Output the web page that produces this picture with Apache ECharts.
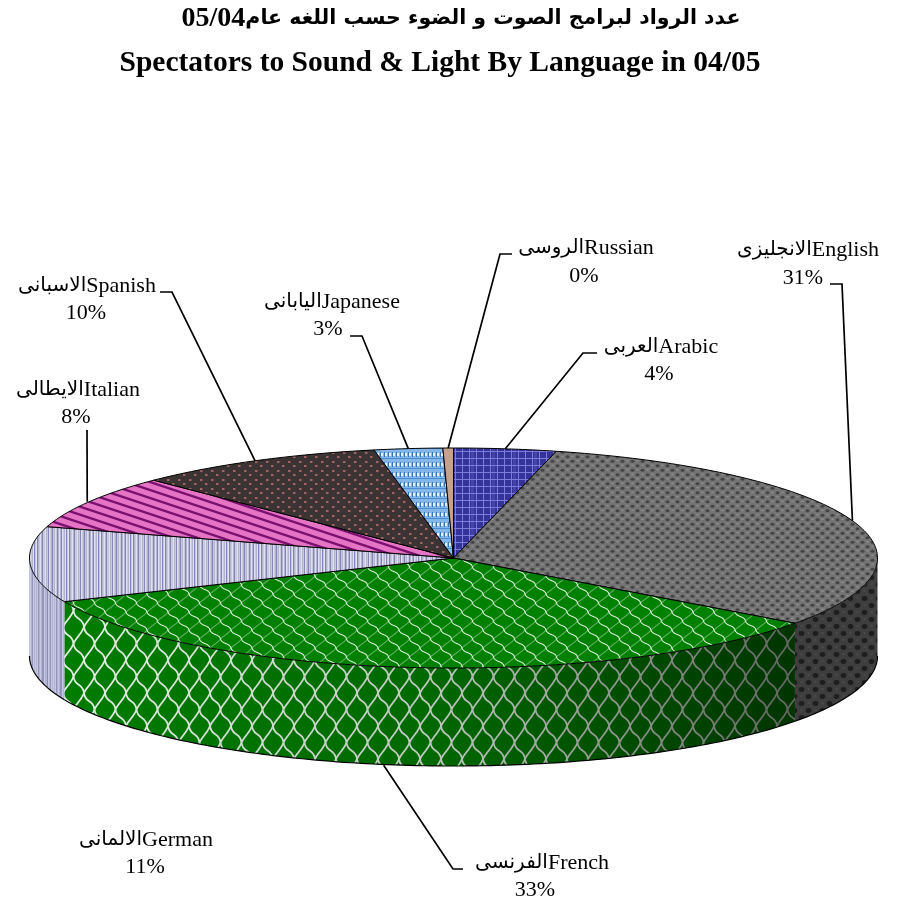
<!DOCTYPE html>
<html>
<head>
<meta charset="utf-8">
<title>Spectators to Sound & Light</title>
<script src="https://cdn.jsdelivr.net/npm/echarts@6/dist/echarts.min.js"></script>
<style>
  html, body { margin: 0; padding: 0; background: #fff; }
  #main { width: 899px; height: 910px; }
</style>
</head>
<body>
<div id="main"></div>
<script>
  // 数据
  const languages = ['Arabic', 'English', 'French', 'German', 'Italian', 'Spanish', 'Japanese', 'Russian'];
  const arabicNames = ['العربى', 'الانجليزى', 'الفرنسى', 'الالمانى', 'الايطالى', 'الاسبانى', 'اليابانى', 'الروسى'];
  const shares = [3.9, 31.2, 33.4, 11.1, 7.9, 9.5, 2.6, 0.4];
  const titleArabic = 'عدد الرواد لبرامج الصوت و الضوء حسب اللغه عام';
  const titleYears = '05/04';
  const titleEnglish = 'Spectators to Sound & Light By Language in 04/05';

  // layout: name x,y then percent x,y
  const labelPos = [
    [661, 347, 659, 374], [808, 250, 803, 278], [542, 863, 535, 890], [146, 840, 145, 867],
    [78, 390, 76, 417], [87, 286, 86, 313], [332, 302, 328, 329], [586, 248, 584, 276]
  ];
  // leader line points on the label side, last point comes from the slice angle
  const leaderPts = [
    [[597, 353], [583, 353]], [[830, 284], [842, 284]], [[463, 869], [453, 869]], null,
    [[87, 430]], [[160, 292], [172, 292]], [[350, 336], [362, 336]], [[512, 254], [500, 254]]
  ];
  const leaderNudge = [0, 0, -22, 0, -2, 0, 0, 0];

  const cx = 453.5, cy = 558, rx = 424, ry = 110, depth = 98;

  function tile(w, h, draw) {
    const c = document.createElement('canvas');
    c.width = w; c.height = h;
    draw(c.getContext('2d'), w, h);
    return { image: c, repeat: 'repeat' };
  }
  // 鳞片 wavy scale lines, rows shifted by half a cell
  function scales(w, h, bg, line, lw, backAlpha) {
    return tile(w, h, (g) => {
      g.fillStyle = bg; g.fillRect(0, 0, w, h);
      g.strokeStyle = line; g.lineWidth = lw;
      for (let j = -1; j <= 2; j++) {
        for (let i = -1; i <= 2; i++) {
          const x = i * w + (j % 2 ? w / 2 : 0), y = j * h / 2;
          g.globalAlpha = 1;
          g.beginPath();
          g.moveTo(x, y);
          g.bezierCurveTo(x + w * 0.05, y + h * 0.32, x + w * 0.45, y + h * 0.18, x + w / 2, y + h / 2);
          g.stroke();
          g.globalAlpha = backAlpha;
          g.beginPath();
          g.moveTo(x + w / 2, y + h / 2);
          g.bezierCurveTo(x + w * 0.6, y + h * 0.34, x + w * 0.9, y + h * 0.2, x + w, y);
          g.stroke();
        }
      }
      g.globalAlpha = 1;
    });
  }
  function weave(w, h, bg, dark, light) {
    return tile(w, h, (g) => {
      g.fillStyle = bg; g.fillRect(0, 0, w, h);
      [[0.25, 0.25], [0.75, 0.75]].forEach(p => {
        g.fillStyle = dark;
        g.beginPath(); g.ellipse(p[0] * w, p[1] * h, w * 0.2, h * 0.17, 0, 0, 7); g.fill();
        g.fillStyle = light;
        g.fillRect((p[0] + 0.5) % 1 * w - 1, p[1] * h - 1, 2, 1);
      });
    });
  }
  function stripes(list, h) {
    return tile(list.length, h, (g) => {
      list.forEach((col, x) => { g.fillStyle = col; g.fillRect(x, 0, 1, h); });
    });
  }
  const sa = '#b2b2d2', sb = '#e0e0ee', sc = '#8686b4', sd = '#c8c8e0';
  const lilacTop = stripes([sa, sb, sc, sd, sb, sc, sa, sd, sb, sa, sc, sd, sd, sb, sa, sd, sc, sb, sd, sa, sc, sd, sa, sb, sd, sc, sa, sb, sa, sc, sb, sd], 4);
  const lilacSide = stripes([sa, sd, '#9494bc', sa, sd, sa, '#9494bc', '#9494bc', sd, sa, sa, '#8c8cb6', sd, sa, '#9494bc', sd, sa, sd], 4);

  const plaid = tile(21, 21, (g, w, h) => {
    g.fillStyle = '#333399'; g.fillRect(0, 0, w, h);
    g.fillStyle = '#4444a8'; g.fillRect(9, 0, 3, h);
    g.fillStyle = '#7c7cdc';
    [0, 7, 14].forEach(x => g.fillRect(x, 0, 1, h));
    [3, 10, 17].forEach(y => g.fillRect(0, y, w, 1));
  });
  const dashes = tile(8, 10, (g, w, h) => {
    g.fillStyle = '#84b6e8'; g.fillRect(0, 0, w, h);
    for (let x = 0; x < w; x += 4) {
      g.fillStyle = '#2f74bc'; g.fillRect(x, 2, 1, 5);
      g.fillStyle = '#e8f2fc'; g.fillRect(x + 1, 3, 2, 3);
    }
    g.fillStyle = '#4a8cd0'; g.fillRect(0, 8, w, 1);
  });
  const diagonal = tile(24, 8, (g, w, h) => {
    g.fillStyle = '#e674c4'; g.fillRect(0, 0, w, h);
    g.strokeStyle = '#7a1070'; g.lineWidth = 2.4;
    for (let k = -2; k <= 2; k++) {
      g.beginPath(); g.moveTo(-2, k * h - 2 / 3); g.lineTo(w + 2, k * h + h + 2 / 3); g.stroke();
    }
  });
  const dots = tile(11, 9, (g, w, h) => {
    g.fillStyle = '#3c3434'; g.fillRect(0, 0, w, h);
    g.fillStyle = '#a46464'; g.fillRect(2, 2, 2, 2); g.fillRect(7, 6, 2, 2);
    g.fillStyle = '#6e4a4a'; g.fillRect(4, 2, 1, 2); g.fillRect(9, 6, 1, 2);
  });

  const topFill = [
    plaid,
    weave(10, 9, '#747474', '#444444', '#9c9c9c'),
    scales(21, 18, '#008000', '#e8f8e8', 1.1, 0.4),
    lilacTop, diagonal, dots, dashes, '#c8a090'
  ];
  const sideFill = {
    1: weave(14, 14, '#3e3e3e', '#1e1e1e', '#585858'),
    2: scales(21, 33, '#007c00', '#e4f0e4', 1.8, 1),
    3: lilacSide
  };
  const sideShade = {
    2: [[0, 'rgba(0,0,0,0)'], [0.5, 'rgba(0,0,0,0.16)'], [1, 'rgba(0,0,0,0.58)']]
  };

  const total = shares.reduce((a, b) => a + b, 0);
  function pt(deg, dy) {
    const t = deg * Math.PI / 180;
    return [cx + rx * Math.sin(t), cy - ry * Math.cos(t) + (dy || 0)];
  }
  function arc(a, b, dy) {
    const pts = [], n = Math.max(2, Math.ceil(Math.abs(b - a)));
    for (let i = 0; i <= n; i++) pts.push(pt(a + (b - a) * i / n, dy));
    return pts;
  }
  const starts = [];
  shares.reduce((s, v, i) => { starts[i] = s; return s + v; }, 0);

  const serif = '"Liberation Serif", serif';
  const arabicFont = '"DejaVu Sans", sans-serif';

  function renderSlice(params, api) {
    const i = params.dataIndex;
    const a = starts[i] / total * 360;
    const b = a + api.value(1) / total * 360;
    const children = [];

    // 侧面 only the front half of the ring can be seen
    const sa1 = Math.max(a, 90), sb1 = Math.min(b, 270);
    if (sb1 > sa1) {
      const ring = arc(sa1, sb1, 0).concat(arc(sb1, sa1, depth));
      children.push({ type: 'polygon', shape: { points: ring }, style: { fill: sideFill[i] } });
      if (sideShade[i]) {
        children.push({
          type: 'polygon', shape: { points: ring },
          style: { fill: new echarts.graphic.LinearGradient(0, 0, 1, 0, sideShade[i].map(s => ({ offset: s[0], color: s[1] }))) }
        });
      }
      children.push({
        type: 'polyline', shape: { points: arc(sa1, sb1, depth) },
        style: { fill: null, stroke: '#000', lineWidth: 1.2 }
      });
    }
    // 上面
    children.push({
      type: 'polygon', shape: { points: [[cx, cy]].concat(arc(a, b, 0)) },
      style: { fill: topFill[i], stroke: '#000', lineWidth: 1 }
    });

    // leader line
    if (leaderPts[i]) {
      const mid = (a + b) / 2;
      const frontBottom = mid > 90 && mid < 270 ? depth : 0;
      const end = pt(mid, frontBottom);
      end[0] += leaderNudge[i];
      children.push({
        type: 'polyline', shape: { points: leaderPts[i].concat([end]) },
        style: { fill: null, stroke: '#000', lineWidth: 1.7 }
      });
    }
    // labels
    const lp = labelPos[i];
    children.push({
      type: 'text',
      style: {
        x: lp[0], y: lp[1], align: 'center', verticalAlign: 'middle', fill: '#000',
        text: '{a|' + arabicNames[i] + '}{e|' + languages[i] + '}',
        rich: {
          a: { font: '20px ' + arabicFont, fill: '#000' },
          e: { font: '22px ' + serif, fill: '#000' }
        }
      }
    });
    children.push({
      type: 'text',
      style: { x: lp[2], y: lp[3], text: Math.round(api.value(1)) + '%', font: '22px ' + serif, fill: '#000', align: 'center', verticalAlign: 'middle' }
    });

    return { type: 'group', children: children };
  }

  var myChart = echarts.init(document.getElementById('main'), null, { renderer: 'canvas' });
  myChart.setOption({
    animation: false,
    backgroundColor: '#fff',
    title: [{
      text: '{n|' + titleYears + '}{a|' + titleArabic + '}', left: 456, top: 0, textAlign: 'center',
      textStyle: {
        rich: {
          n: { fontFamily: serif, fontWeight: 'bold', fontSize: 28, color: '#000' },
          a: { fontFamily: arabicFont, fontWeight: 'bold', fontSize: 20.5, color: '#000' }
        }
      }
    }, {
      text: titleEnglish, left: 435, top: 43, textAlign: 'center',
      textStyle: { fontFamily: serif, fontWeight: 'bold', fontSize: 29.5, color: '#000' }
    }],
    series: [{
      type: 'custom',
      coordinateSystem: 'none',
      silent: true,
      clip: false,
      data: shares.map((v, i) => [i, v]),
      renderItem: renderSlice
    }]
  });
</script>
</body>
</html>
